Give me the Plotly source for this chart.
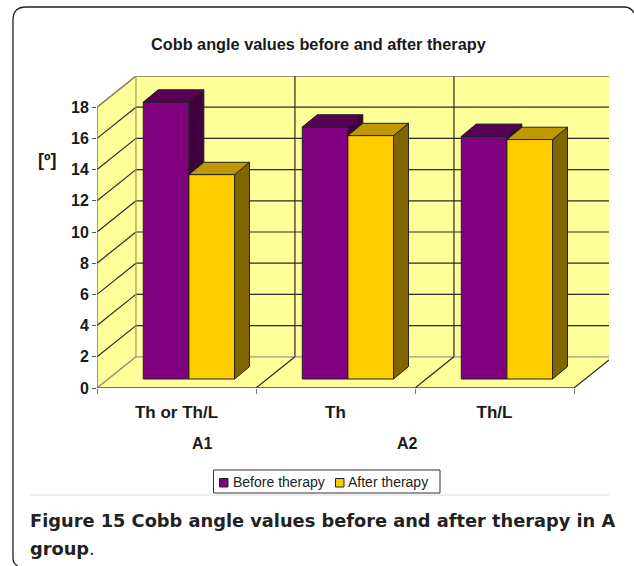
import plotly.graph_objects as go

title = "Cobb angle values before and after therapy"
categories = ["Th or Th/L", "Th", "Th/L"]
groups = ["A1", "A2"]
before = [17.75, 16.15, 15.55]
after = [13.1, 15.6, 15.35]
y_ticks = [0, 2, 4, 6, 8, 10, 12, 14, 16, 18]
series_names = ["Before therapy", "After therapy"]

W, H = 634, 566
L, R, T, B = 97, 609, 76, 388
PX_CAT = 159.0
PX_UNIT = 15.6

# 3D projection parameters in data units
WALL_DX, WALL_DY = 0.245, 2.0
BAR_DX, BAR_DY = 0.094, 0.79
LIFT = 0.577
BAR_W = 0.287
OFF_A, OFF_B = 0.4345, 0.7215

XMAX = (R - L) / PX_CAT
YMAX = (B - T) / PX_UNIT
n = len(categories)

WALL = "#FFFF99"
DARK = "#2a2a2a"
GREY = "#9a9a70"
PURPLE, GOLD = "#800080", "#FFCC00"


def px(x):
    return (x - L) / (R - L)


def py(y):
    return (B - y) / (B - T)


def poly(pts):
    return "M" + " L".join(f"{a},{b}" for a, b in pts) + " Z"


shapes = []
# back wall, side wall, floor
shapes.append(dict(type="path", xref="x", yref="y", layer="below", fillcolor=WALL, line=dict(width=0),
                   path=poly([(WALL_DX, WALL_DY), (XMAX, WALL_DY), (XMAX, YMAX), (WALL_DX, YMAX)])))
shapes.append(dict(type="path", xref="x", yref="y", layer="below", fillcolor=WALL, line=dict(width=0),
                   path=poly([(0, 0), (WALL_DX, WALL_DY), (WALL_DX, YMAX), (0, y_ticks[-1])])))
shapes.append(dict(type="path", xref="x", yref="y", layer="below", fillcolor=WALL, line=dict(width=0),
                   path=poly([(0, 0), (n, 0), (XMAX, (XMAX - n) / WALL_DX * WALL_DY), (XMAX, WALL_DY), (WALL_DX, WALL_DY)])))


def seg(x0, y0, x1, y1, color=DARK, width=1.2):
    shapes.append(dict(type="line", xref="x", yref="y", layer="below", x0=x0, y0=y0, x1=x1, y1=y1,
                       line=dict(color=color, width=width)))


# gridlines on the walls
for v in y_ticks:
    c = GREY if v == 0 else DARK
    seg(WALL_DX, v + WALL_DY, XMAX, v + WALL_DY, c)
    seg(0, v, WALL_DX, v + WALL_DY, c)
seg(0, y_ticks[-1], WALL_DX, YMAX, GREY)
seg(WALL_DX, WALL_DY, WALL_DX, YMAX, GREY)
seg(WALL_DX, YMAX, XMAX, YMAX, GREY)
for i in range(1, n + 1):
    if i < n:
        seg(i + WALL_DX, WALL_DY, i + WALL_DX, YMAX)
    seg(i, 0, min(i + WALL_DX, XMAX), (min(i + WALL_DX, XMAX) - i) / WALL_DX * WALL_DY)
seg(0, 0, WALL_DX, WALL_DY, GREY)
# axis lines
seg(0, 0, 0, y_ticks[-1], "#666666", 1.3)
seg(0, 0, n, 0, "#444444", 1.6)

# page furniture
shapes.append(dict(type="path", xref="paper", yref="paper", line=dict(color="#222222", width=1.3),
                   path=f"M{px(634)},{py(13)} Q{px(631)},{py(7)} {px(624)},{py(7)} L{px(26)},{py(7)} "
                        f"Q{px(13)},{py(7)} {px(13)},{py(20)} "
                        f"L{px(13)},{py(558)} Q{px(13)},{py(564)} {px(18)},{py(566)}"))
shapes.append(dict(type="line", xref="paper", yref="paper", x0=px(29), x1=px(609), y0=py(495), y1=py(495),
                   line=dict(color="#dddddd", width=1)))
# legend box and swatches
shapes.append(dict(type="rect", xref="paper", yref="paper", x0=px(213.5), x1=px(440), y0=py(470), y1=py(493),
                   fillcolor="white", line=dict(color="#333333", width=1)))
shapes.append(dict(type="rect", xref="paper", yref="paper", x0=px(219.5), x1=px(228), y0=py(478.5), y1=py(487),
                   fillcolor=PURPLE, line=dict(color="#222222", width=1)))
shapes.append(dict(type="rect", xref="paper", yref="paper", x0=px(335.5), x1=px(344), y0=py(478.5), y1=py(487),
                   fillcolor=GOLD, line=dict(color="#222222", width=1)))

fig = go.Figure()

# purple bars on the base axes
xa = [i + OFF_A for i in range(n)]
xb = [i + OFF_B for i in range(n)]
fig.add_trace(go.Bar(x=xa, y=before, base=LIFT, width=BAR_W, name=series_names[0], xaxis="x", yaxis="y",
                     marker=dict(color=PURPLE, line=dict(color="#222222", width=1))))


def faces(xs, vals, top_col, side_col):
    for x, v in zip(xs, vals):
        xl, xr, t = x - BAR_W / 2, x + BAR_W / 2, LIFT + v
        fig.add_trace(go.Scatter(x=[xr, xr + BAR_DX, xr + BAR_DX, xr, xr],
                                 y=[LIFT, LIFT + BAR_DY, t + BAR_DY, t, LIFT],
                                 mode="lines", fill="toself", fillcolor=side_col, showlegend=False,
                                 line=dict(color="#222222", width=1), hoverinfo="skip"))
        fig.add_trace(go.Scatter(x=[xl, xl + BAR_DX, xr + BAR_DX, xr, xl],
                                 y=[t, t + BAR_DY, t + BAR_DY, t, t],
                                 mode="lines", fill="toself", fillcolor=top_col, showlegend=False,
                                 line=dict(color="#222222", width=1), hoverinfo="skip"))


faces(xa, before, "#560056", "#400040")
faces(xb, after, "#BF9900", "#806600")

# yellow fronts sit on an overlay so they cover the purple side faces
fig.add_trace(go.Bar(x=xb, y=after, base=LIFT, width=BAR_W, name=series_names[1], xaxis="x2", yaxis="y2",
                     marker=dict(color=GOLD, line=dict(color="#222222", width=1))))

INK = "#1a1a1a"


def label(text, x, y, family="Liberation Sans", size=16, anchor="center", color=INK):
    return dict(text=text, x=px(x), y=py(y), xref="paper", yref="paper", showarrow=False,
                xanchor=anchor, yanchor="middle", font=dict(family=family, size=size, color=color))


ann = [
    label(f"<b>{title}</b>", 318, 44, size=16.3),
    label("<b>[º]</b>", 47.5, 160, size=18),
    label(f"<b>{groups[0]}</b>", 202, 443, size=16),
    label(f"<b>{groups[1]}</b>", 407, 443, size=16),
    label(series_names[0], 231, 482, size=14, anchor="left", color="#222222"),
    label(series_names[1], 346, 482, size=14, anchor="left", color="#222222"),
    label("<b>Figure 15 Cobb angle values before and after therapy in A</b>", 28, 520,
          family="DejaVu Sans", size=17.8, anchor="left", color="#222222"),
    label("<b>group</b>.", 28, 548, family="DejaVu Sans", size=17.8, anchor="left", color="#222222"),
]

fig.update_layout(
    width=W, height=H, margin=dict(l=L, r=W - R, t=T, b=H - B, autoexpand=False),
    paper_bgcolor="white", plot_bgcolor="white", barmode="overlay", shapes=shapes, annotations=ann,
    showlegend=False,
    xaxis=dict(range=[0, XMAX], showgrid=False, zeroline=False, showline=False,
               tickmode="array", tickvals=[i + 0.5 for i in range(n)], ticktext=[f"<b>{c}</b>" for c in categories],
               ticks="", ticklabelstandoff=12, tickfont=dict(family="Liberation Sans", size=17, color=INK),
               minor=dict(tickvals=list(range(n + 1)), ticks="outside", ticklen=5, tickcolor="#777777", tickwidth=1)),
    yaxis=dict(range=[0, YMAX], showgrid=False, zeroline=False, showline=False,
               tickmode="array", tickvals=y_ticks, ticktext=[f"<b>{v}</b>" for v in y_ticks],
               ticks="outside", ticklen=4, tickcolor="#555555",
               tickfont=dict(family="Liberation Sans", size=16, color=INK)),
    xaxis2=dict(range=[0, XMAX], overlaying="x", visible=False),
    yaxis2=dict(range=[0, YMAX], overlaying="y", visible=False),
)

fig.write_html("out.html", config={"displayModeBar": False}, post_script="document.body.style.margin='0';")
